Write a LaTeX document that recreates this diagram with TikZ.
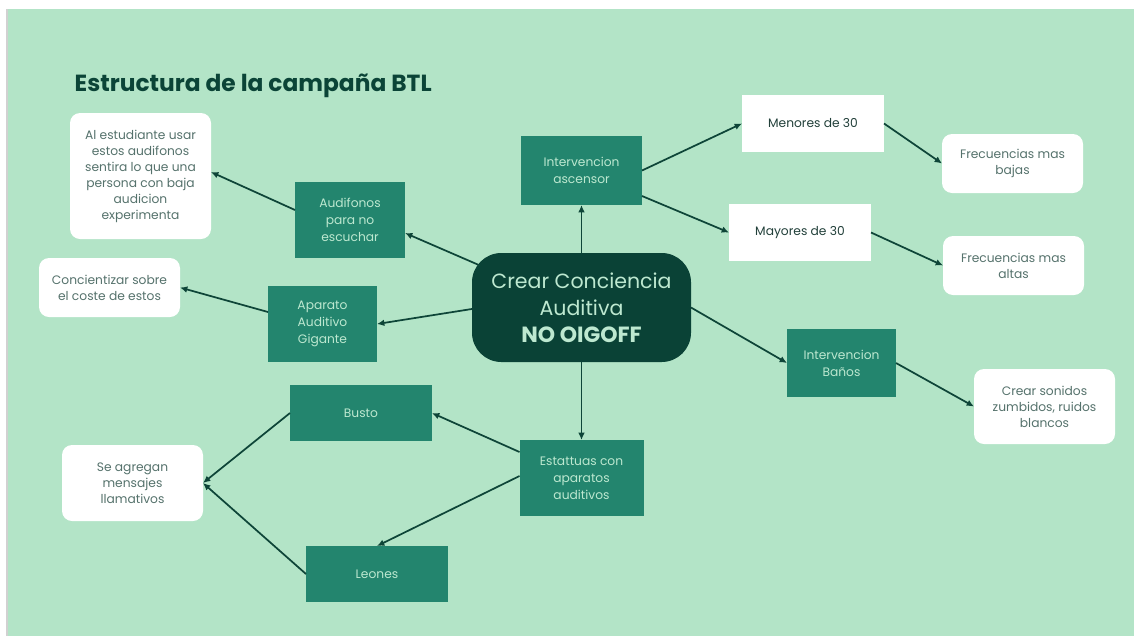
\documentclass[tikz,border=0pt]{standalone}
\usepackage{fontspec}
\setmainfont{Poppins}
\usetikzlibrary{arrows.meta}
\definecolor{bgc}{HTML}{B3E4C7}
\definecolor{boxg}{HTML}{23856E}
\definecolor{cdark}{HTML}{0A4236}
\definecolor{ltxt}{HTML}{BDE8D0}
\definecolor{wtxt}{HTML}{55726C}
\definecolor{wdark}{HTML}{22403A}
\definecolor{edgec}{HTML}{0E4538}
\definecolor{titc}{HTML}{0B4437}
\begin{document}
\begin{tikzpicture}[x=0.75pt,y=-0.75pt,
  gbox/.style={rectangle, fill=boxg, text=ltxt, inner sep=0pt, outer sep=0pt, align=center, font=\fontsize{9.2}{12.6}\selectfont},
  wbox/.style={rectangle, fill=white, text=wdark, inner sep=0pt, outer sep=0pt, align=center, font=\fontsize{9.2}{12.6}\selectfont},
  wrbox/.style={rectangle, rounded corners=7.5pt, fill=white, text=wtxt, inner sep=0pt, outer sep=0pt, align=center, font=\fontsize{9.2}{12}\selectfont},
  conn/.style={draw=edgec, line width=1.3pt, -{Latex[length=5.5pt,width=5pt]}}
]
\useasboundingbox (0,0) rectangle (1134,636);
\fill[white] (0,0) rectangle (1134,636);
\fill[bgc] (8,9) rectangle (1134,636);
\fill[black!18] (6,9) rectangle (8,636);

\node[anchor=base west, text=titc, font=\fontsize{17.5}{21}\selectfont\bfseries] (title) at (70,91) {Estructura de la campaña BTL};

\node[rectangle, rounded corners=22pt, fill=cdark, text=ltxt, inner sep=0pt, outer sep=0pt, align=center,
      minimum width=164.25pt, minimum height=81.75pt, font=\fontsize{15.4}{20.2}\selectfont] (cen) at (581.5,307.5)
      {Crear Conciencia\\Auditiva\\{\fontsize{16.5}{20.2}\selectfont\bfseries NO OIGOFF}};

\node[gbox, minimum width=90.75pt, minimum height=51.75pt] (asc) at (581.5,170.5) {Intervencion\\ascensor};
\node[wbox, minimum width=106.5pt, minimum height=42.75pt] (men) at (813,123.5) {Menores de 30};
\node[wbox, minimum width=106.5pt, minimum height=42.75pt] (may) at (800,232.5) {Mayores de 30};
\node[wrbox, minimum width=105.75pt, minimum height=44.25pt] (fba) at (1012.5,163.5) {Frecuencias mas\\bajas};
\node[wrbox, minimum width=105.75pt, minimum height=44.25pt] (fal) at (1013.5,265.5) {Frecuencias mas\\altas};
\node[gbox, minimum width=81.75pt, minimum height=51pt] (ban) at (841.5,363) {Intervencion\\Baños};
\node[wrbox, minimum width=105.75pt, minimum height=56.25pt] (son) at (1044.5,406.5) {Crear sonidos\\zumbidos, ruidos\\blancos};
\node[gbox, minimum width=82.5pt, minimum height=57pt] (aud) at (350,220) {Audifonos\\para no\\escuchar};
\node[wrbox, minimum width=105.75pt, minimum height=94.5pt] (est) at (140.5,176) {Al estudiante usar\\estos audifonos\\sentira lo que una\\persona con baja\\audicion\\experimenta};
\node[gbox, minimum width=81.75pt, minimum height=57pt] (apa) at (322.5,324) {Aparato\\Auditivo\\Gigante};
\node[wrbox, minimum width=105.75pt, minimum height=44.25pt] (con) at (109.5,287.5) {Concientizar sobre\\el coste de estos};
\node[gbox, minimum width=106.5pt, minimum height=42pt] (bus) at (361,413) {Busto};
\node[gbox, minimum width=93pt, minimum height=57pt] (sta) at (581.5,478) {Estattuas con\\aparatos\\auditivos};
\node[gbox, minimum width=106.5pt, minimum height=42pt] (leo) at (377,574) {Leones};
\node[wrbox, minimum width=105.75pt, minimum height=57pt] (agr) at (132.5,483) {Se agregan\\mensajes\\llamativos};

\draw[conn] (cen.north) -- (asc.south);
\draw[conn] (asc.east) -- (men.west);
\draw[conn] ([yshift=6.75pt]asc.south east) -- (may.west);
\draw[conn] (men.east) -- (fba.west);
\draw[conn] (may.east) -- (fal.west);
\draw[conn] (cen.east) -- (ban.west);
\draw[conn] (ban.east) -- (son.west);
\draw[conn] ([xshift=6pt,yshift=31.5pt]cen.west) -- ([yshift=-9.75pt]aud.east);
\draw[conn] ([yshift=7.5pt]aud.west) -- ([yshift=3pt]est.east);
\draw[conn] ([yshift=-1.1pt]cen.west) -- (apa.east);
\draw[conn] ([yshift=9pt]apa.west) -- (con.east);
\draw[conn] (cen.south) -- (sta.north);
\draw[conn] ([yshift=19.5pt]sta.west) -- (bus.east);
\draw[conn] ([yshift=1.5pt]sta.west) -- (leo.north);
\draw[conn] (bus.west) -- (agr.east);
\draw[conn] (leo.west) -- (agr.east);
\end{tikzpicture}
\end{document}
